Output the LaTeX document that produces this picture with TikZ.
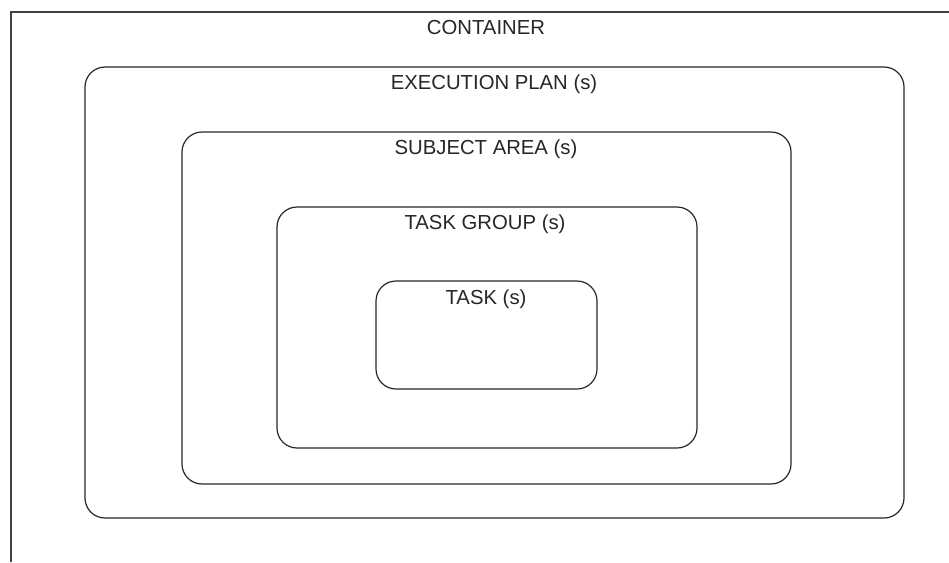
\documentclass[tikz,border=0pt]{standalone}
\usepackage{fontspec}
\setmainfont{Liberation Sans}
\usepackage{tikz}

\tikzset{label text/.style={inner sep=0pt, font=\fontsize{20.3}{24}\selectfont, text=black!85}}

\begin{document}
\begin{tikzpicture}[x=1pt, y=-1pt, line width=1.2pt]
   \useasboundingbox (0,0) rectangle (949,562);

   % container edge
   \draw[draw=black!75] (949,12) -- (11,12) -- (11,562);
   \node[label text] (container) at (486,28) {CONTAINER};

   % nested boxes
   \draw[rounded corners=20pt, draw=black!85] (85,67) rectangle (904,518);
   \draw[rounded corners=20pt, draw=black!85] (182,132) rectangle (791,484);
   \draw[rounded corners=20pt, draw=black!85] (277,207) rectangle (697,448);
   \draw[rounded corners=20pt, draw=black!85] (376,281) rectangle (597,389);

   \node[label text] (plan) at (494,84) {EXECUTION PLAN (s)};
   \node[label text] (area) at (486,149) {SUBJECT AREA (s)};
   \node[label text] (group) at (485,224) {TASK GROUP (s)};
   \node[label text] (task) at (486,299) {TASK (s)};
\end{tikzpicture}
\end{document}
